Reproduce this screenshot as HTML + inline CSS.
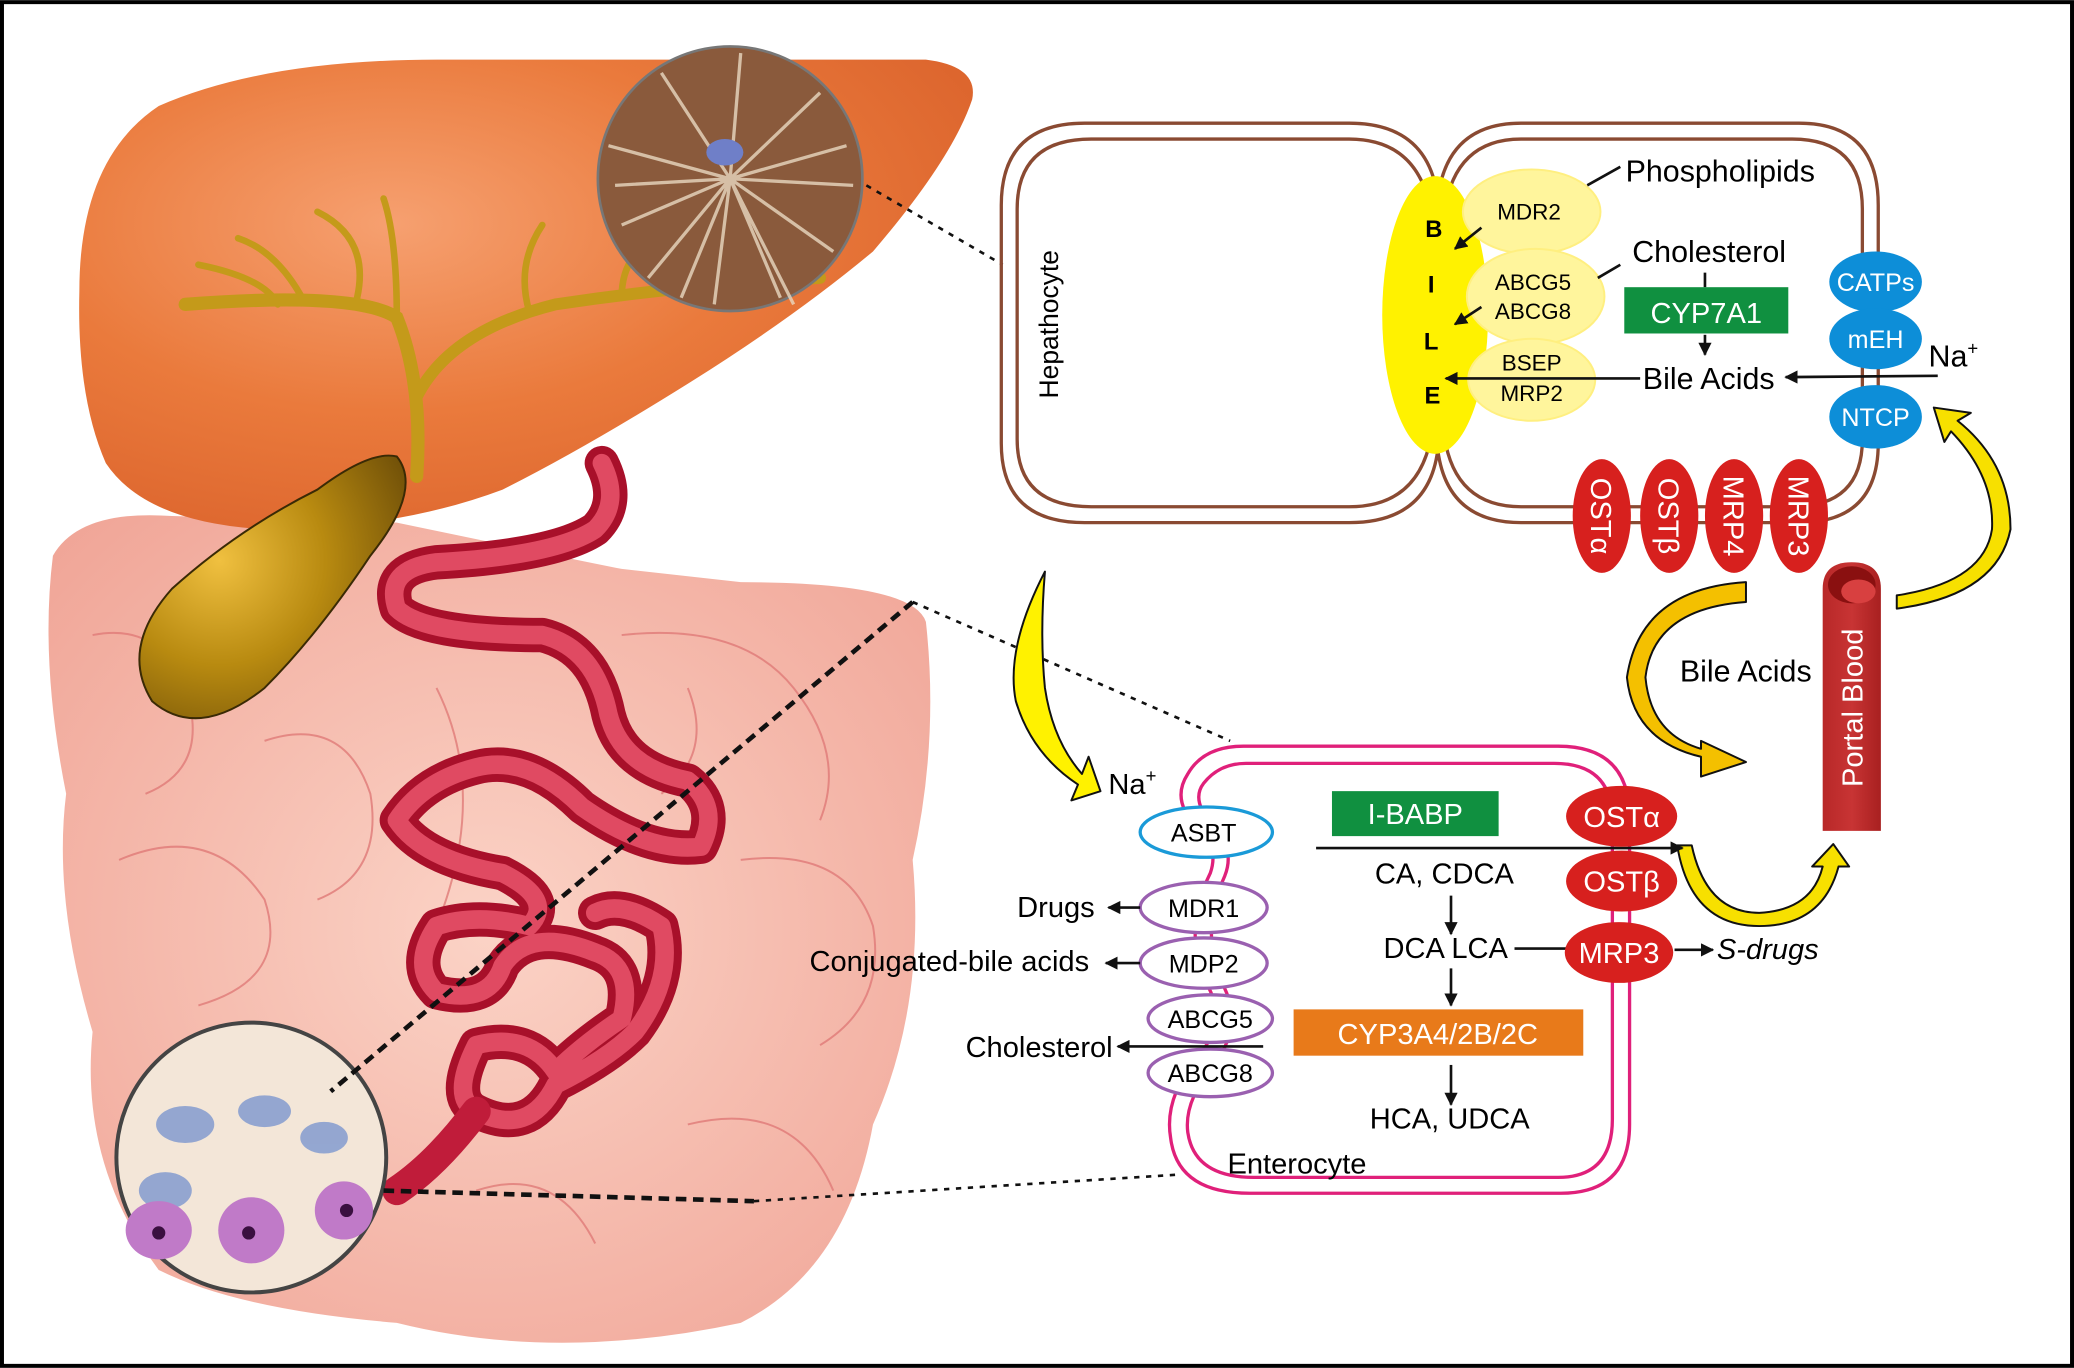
<!DOCTYPE html>
<html><head><meta charset="utf-8"><style>
html,body{margin:0;padding:0;background:#fff}
svg{display:block}
text{font-family:"Liberation Sans Narrow","Liberation Sans",sans-serif}
</style></head><body>
<svg width="2074" height="1368" viewBox="0 0 1568 1034" xmlns="http://www.w3.org/2000/svg">
<defs>
<radialGradient id="liv" cx="0.35" cy="0.35" r="0.8"><stop offset="0" stop-color="#f6a070"/><stop offset="0.5" stop-color="#ea7a3c"/><stop offset="1" stop-color="#d9602a"/></radialGradient>
<radialGradient id="gb" cx="0.3" cy="0.4" r="0.8"><stop offset="0" stop-color="#f0c040"/><stop offset="0.5" stop-color="#b88a10"/><stop offset="1" stop-color="#6e4e08"/></radialGradient>
<radialGradient id="int" cx="0.5" cy="0.5" r="0.7"><stop offset="0" stop-color="#fbd3c6"/><stop offset="1" stop-color="#f0a496"/></radialGradient>
<linearGradient id="pb" x1="0" x2="1"><stop offset="0" stop-color="#b82828"/><stop offset="0.5" stop-color="#c83434"/><stop offset="1" stop-color="#a82020"/></linearGradient>
<marker id="ah" viewBox="0 0 10 10" refX="9" refY="5" markerWidth="5" markerHeight="5" orient="auto"><path d="M0,0 L10,5 L0,10 z" fill="#111"/></marker>
</defs>
<rect x="1.5" y="1.5" width="1565" height="1031" fill="#fff" stroke="#000" stroke-width="3"/>

<!-- intestines -->
<path d="M40,420 Q60,385 130,390 L300,395 Q420,420 470,430 L560,440 Q690,440 700,470 Q710,560 690,650 Q700,760 660,850 Q640,960 560,1000 Q420,1030 300,1000 Q180,990 120,960 Q60,880 70,780 Q40,680 50,600 Q30,500 40,420 Z" fill="url(#int)"/>
<g fill="none" stroke="#e07a78" stroke-width="1.5" opacity="0.8">
<path d="M70,480 Q120,470 140,520 Q160,580 110,600"/><path d="M90,650 Q160,620 200,680 Q220,740 150,760"/>
<path d="M150,820 Q230,780 260,850"/><path d="M470,480 Q560,470 600,520 Q640,570 620,620"/>
<path d="M560,650 Q640,640 660,700 Q670,760 620,790"/><path d="M520,850 Q600,830 630,900"/>
<path d="M200,560 Q260,540 280,600 Q290,660 240,680"/><path d="M360,900 Q420,880 450,940"/>
<path d="M330,520 Q370,600 330,700"/><path d="M520,520 Q540,570 500,600"/></g>

<!-- liver -->
<path d="M60,220 Q60,120 120,80 Q200,45 330,45 L700,45 Q740,50 735,75 Q720,120 660,190 Q600,240 520,290 Q440,340 380,370 Q300,400 200,400 Q110,395 80,350 Q58,300 60,220 Z" fill="url(#liv)"/>
<g fill="none" stroke="#c49a1a" stroke-linecap="round">
<path d="M315,360 Q320,290 300,240 Q270,220 140,230" stroke-width="10"/>
<path d="M315,300 Q340,250 420,230 Q520,215 620,210" stroke-width="9"/>
<path d="M230,228 Q210,190 180,180 M270,225 Q280,180 240,160 M300,240 Q300,180 290,150 M210,230 Q200,210 150,200" stroke-width="5"/>
<path d="M400,235 Q390,200 410,170 M470,225 Q470,190 500,180 M540,215 Q560,190 600,185" stroke-width="5"/>
</g>
<!-- gallbladder -->
<path d="M300,345 Q320,370 280,420 Q240,480 200,520 Q150,560 115,530 Q90,490 130,445 Q180,400 240,370 Q280,340 300,345 Z" fill="url(#gb)" stroke="#3a2a05" stroke-width="1.5"/>

<!-- small intestine tube -->
<path d="M455,350 Q470,380 450,400 Q420,420 330,425 Q290,430 300,460 Q320,480 410,480 Q450,490 460,540 Q470,580 520,590 Q545,610 530,640 Q490,645 440,610 Q400,570 360,580 Q320,590 300,620 Q320,650 380,660 Q420,680 400,700 Q360,690 330,700 Q310,730 330,750 Q370,760 380,730 Q400,700 450,720 Q480,730 470,770 Q440,790 420,810 Q400,780 360,790 Q340,830 360,840 Q400,860 420,820 Q460,800 480,780 Q510,740 500,700 Q470,680 450,690" fill="none" stroke="#a8102a" stroke-width="26" stroke-linecap="round" stroke-linejoin="round"/>
<path d="M455,350 Q470,380 450,400 Q420,420 330,425 Q290,430 300,460 Q320,480 410,480 Q450,490 460,540 Q470,580 520,590 Q545,610 530,640 Q490,645 440,610 Q400,570 360,580 Q320,590 300,620 Q320,650 380,660 Q420,680 400,700 Q360,690 330,700 Q310,730 330,750 Q370,760 380,730 Q400,700 450,720 Q480,730 470,770 Q440,790 420,810 Q400,780 360,790 Q340,830 360,840 Q400,860 420,820 Q460,800 480,780 Q510,740 500,700 Q470,680 450,690" fill="none" stroke="#e04a62" stroke-width="14" stroke-linecap="round" stroke-linejoin="round"/>
<path d="M360,840 Q330,880 300,900" fill="none" stroke="#c01c3a" stroke-width="22" stroke-linecap="round"/>

<!-- liver lobule circle -->
<circle cx="552" cy="135" r="100" fill="#8a5a3c" stroke="#777" stroke-width="2"/>
<g stroke="#e8d8c0" stroke-width="2.5" fill="none" opacity="0.8">
<path d="M552,135 L460,110 M552,135 L470,170 M552,135 L490,210 M552,135 L540,230 M552,135 L590,225 M552,135 L630,190 M552,135 L645,140 M552,135 L620,70 M552,135 L560,40 M552,135 L500,55 M552,135 L465,140 M552,135 L600,230 M552,135 L515,225 M552,135 L640,110"/></g>
<ellipse cx="548" cy="115" rx="14" ry="10" fill="#6f7fc8"/>
<!-- intestine circle -->
<circle cx="190" cy="875" r="102" fill="#f3e6d8" stroke="#444" stroke-width="3"/>
<g fill="#8aa0d0" opacity="0.9"><ellipse cx="140" cy="850" rx="22" ry="14"/><ellipse cx="200" cy="840" rx="20" ry="12"/><ellipse cx="245" cy="860" rx="18" ry="12"/><ellipse cx="125" cy="900" rx="20" ry="14"/></g>
<g fill="#c07ac8"><ellipse cx="120" cy="930" rx="25" ry="22"/><ellipse cx="190" cy="930" rx="25" ry="25"/><ellipse cx="260" cy="915" rx="22" ry="22"/></g>
<g fill="#3a1040"><circle cx="120" cy="932" r="5"/><circle cx="188" cy="932" r="5"/><circle cx="262" cy="915" r="5"/></g>

<!-- zoom lines -->
<path d="M655,140 L758,200" stroke="#111" stroke-width="2" stroke-dasharray="4,5"/>
<path d="M690,455 L930,560" stroke="#111" stroke-width="2" stroke-dasharray="4,5"/>
<path d="M690,455 L250,825" stroke="#111" stroke-width="3.5" stroke-dasharray="8,5"/>
<path d="M290,900 L570,908" stroke="#111" stroke-width="3.5" stroke-dasharray="8,5"/>
<path d="M570,908 L890,888" stroke="#111" stroke-width="2" stroke-dasharray="4,5"/>

<!-- Hepatocytes -->
<g fill="none" stroke="#8a4a32" stroke-width="2.5">
<path d="M820,93 H1020 Q1080,93 1087,150 Q1094,93 1150,93 H1360 Q1420,93 1420,155 V335 Q1420,395 1360,395 H1150 Q1094,395 1087,340 Q1080,395 1020,395 H820 Q757,395 757,335 V155 Q757,93 820,93 Z"/>
<path d="M1082,160 Q1072,105 1020,105 H825 Q769,105 769,158 V332 Q769,383 825,383 H1020 Q1072,383 1082,330"/>
<path d="M1092,160 Q1100,105 1150,105 H1355 Q1408,105 1408,158 V332 Q1408,383 1355,383 H1150 Q1100,383 1092,330"/>
</g>
<text transform="translate(800,245) rotate(-90)" font-size="20" text-anchor="middle" font-family="Liberation Sans">Hepathocyte</text>
<ellipse cx="1085" cy="238" rx="40" ry="105" fill="#fff200"/>
<g font-size="18" font-weight="bold" font-family="Liberation Sans" text-anchor="middle"><text x="1084" y="179">B</text><text x="1082" y="221">I</text><text x="1082" y="264">L</text><text x="1083" y="305">E</text></g>
<g fill="#fff59c" stroke="#ffef80" stroke-width="1.5"><ellipse cx="1158" cy="160" rx="52" ry="32"/><ellipse cx="1161" cy="224" rx="52" ry="36"/><ellipse cx="1158" cy="287" rx="48" ry="31"/></g>
<g font-size="17" text-anchor="middle"><text x="1156" y="166">MDR2</text><text x="1159" y="219">ABCG5</text><text x="1159" y="241">ABCG8</text><text x="1158" y="280">BSEP</text><text x="1158" y="303">MRP2</text></g>
<g stroke="#111" stroke-width="2" fill="none"><path d="M1200,140 L1225,126"/><path d="M1208,210 L1225,200"/>
<path d="M1120,172 L1100,188" marker-end="url(#ah)"/><path d="M1120,232 L1100,245" marker-end="url(#ah)"/>
<path d="M1240,286 L1093,286" marker-end="url(#ah)"/><path d="M1465,284 L1350,285" marker-end="url(#ah)"/>
<path d="M1289,206 V217"/><path d="M1289,253 V268" marker-end="url(#ah)"/></g>
<g font-size="23"><text x="1229" y="137">Phospholipids</text><text x="1234" y="198">Cholesterol</text><text x="1242" y="294">Bile Acids</text><text x="1458" y="277">Na<tspan font-size="14" dy="-9">+</tspan></text></g>
<rect x="1228" y="217" width="124" height="35" fill="#109040"/>
<text x="1290" y="244" font-size="22" fill="#fff" text-anchor="middle">CYP7A1</text>
<g fill="#0d8ed8"><ellipse cx="1418" cy="213" rx="35" ry="23"/><ellipse cx="1418" cy="256" rx="35" ry="23"/><ellipse cx="1418" cy="315" rx="35" ry="24"/></g>
<g fill="#fff" font-size="19" text-anchor="middle"><text x="1418" y="220">CATPs</text><text x="1418" y="263">mEH</text><text x="1418" y="322">NTCP</text></g>
<g fill="#d7201e"><ellipse cx="1211" cy="390" rx="22" ry="43"/><ellipse cx="1262" cy="390" rx="22" ry="43"/><ellipse cx="1311" cy="390" rx="22" ry="43"/><ellipse cx="1360" cy="390" rx="22" ry="43"/></g>
<g fill="#fff" font-size="22" text-anchor="middle">
<text transform="translate(1203,390) rotate(90)">OSTα</text><text transform="translate(1254,390) rotate(90)">OSTβ</text>
<text transform="translate(1303,390) rotate(90)">MRP4</text><text transform="translate(1352,390) rotate(90)">MRP3</text></g>

<!-- Portal blood -->
<path d="M1378,445 Q1378,425 1400,425 Q1422,425 1422,445 V628 H1378 Z" fill="url(#pb)"/>
<ellipse cx="1400" cy="442" rx="18" ry="14" fill="#8a1010"/><ellipse cx="1405" cy="447" rx="13" ry="9" fill="#d84040"/>
<text transform="translate(1408,535) rotate(-90)" fill="#fff" font-size="22" text-anchor="middle" font-family="Liberation Sans">Portal Blood</text>
<text x="1270" y="515" font-size="23">Bile Acids</text>

<!-- yellow arrows -->
<g stroke="#111" stroke-width="1.5" stroke-linejoin="round">
<path d="M1320,440 Q1240,445 1230,512 Q1235,560 1286,572 L1286,587 L1320,576 L1286,560 L1286,566 Q1248,555 1244,512 Q1250,460 1320,455 Z" fill="#f4c000"/>
<path d="M1268,639 L1279,639 Q1290,690 1330,690 Q1370,688 1378,655 L1370,655 L1386,638 L1398,655 L1390,655 Q1378,700 1330,700 Q1278,700 1268,639 Z" fill="#f7e000"/>
<path d="M1434,460 Q1510,450 1520,400 Q1520,350 1480,318 L1490,312 L1462,308 L1470,334 L1475,326 Q1508,360 1506,400 Q1500,440 1434,450 Z" fill="#f7e000"/>
<path d="M790,432 Q760,490 768,530 Q780,570 815,593 L810,605 L832,598 L823,572 L818,585 Q796,560 790,520 Q786,480 790,432 Z" fill="#fff200"/>
</g>

<!-- Enterocyte -->
<g fill="none" stroke="#e0207a" stroke-width="2.5">
<path d="M940,564 H1178 Q1232,564 1232,618 V850 Q1232,902 1180,902 H945 Q890,902 885,860 Q880,830 905,800 Q930,770 910,740 Q895,700 915,660 Q922,640 905,625 Q885,605 898,585 Q910,564 940,564 Z"/>
<path d="M942,577 H1175 Q1219,577 1219,620 V846 Q1219,890 1178,890 H948 Q903,890 898,856 Q895,832 918,805 Q942,772 922,740 Q908,702 926,662 Q934,642 917,624 Q900,605 910,592 Q922,577 942,577 Z"/>
</g>
<g font-size="22"><text x="838" y="600">Na<tspan font-size="14" dy="-9">+</tspan></text></g>
<ellipse cx="912" cy="629" rx="50" ry="19" fill="#fff" stroke="#1a9ad8" stroke-width="2.5"/>
<g fill="#fff" stroke="#9a60b0" stroke-width="2.5"><ellipse cx="910" cy="686" rx="48" ry="19"/><ellipse cx="910" cy="728" rx="48" ry="19"/><ellipse cx="915" cy="770" rx="47" ry="18"/><ellipse cx="915" cy="811" rx="47" ry="18"/></g>
<g font-size="19" text-anchor="middle"><text x="910" y="636">ASBT</text><text x="910" y="693">MDR1</text><text x="910" y="735">MDP2</text><text x="915" y="777">ABCG5</text><text x="915" y="818">ABCG8</text></g>
<g stroke="#111" stroke-width="2" fill="none">
<path d="M862,686 L838,686" marker-end="url(#ah)"/><path d="M862,728 L836,728" marker-end="url(#ah)"/>
<path d="M955,791 L845,791" marker-end="url(#ah)"/>
<path d="M995,641 L1272,641" marker-end="url(#ah)"/>
<path d="M1097,677 V706" marker-end="url(#ah)"/><path d="M1097,732 V760" marker-end="url(#ah)"/><path d="M1097,805 V835" marker-end="url(#ah)"/>
<path d="M1145,717 H1190"/><path d="M1266,718 H1295" marker-end="url(#ah)"/></g>
<g font-size="22"><text x="769" y="693">Drugs</text><text x="612" y="734">Conjugated-bile acids</text><text x="730" y="799">Cholesterol</text>
<text x="1092" y="668" text-anchor="middle">CA, CDCA</text><text x="1093" y="724" text-anchor="middle">DCA LCA</text>
<text x="1096" y="853" text-anchor="middle">HCA, UDCA</text><text x="928" y="887">Enterocyte</text>
<text x="1298" y="725" font-style="italic">S-drugs</text></g>
<rect x="1007" y="598" width="126" height="34" fill="#109040"/>
<text x="1070" y="623" fill="#fff" font-size="22" text-anchor="middle">I-BABP</text>
<rect x="978" y="763" width="219" height="35" fill="#e87a1a"/>
<text x="1087" y="789" fill="#fff" font-size="22" text-anchor="middle">CYP3A4/2B/2C</text>
<g fill="#d7201e"><ellipse cx="1226" cy="617" rx="42" ry="23"/><ellipse cx="1226" cy="666" rx="42" ry="23"/><ellipse cx="1224" cy="720" rx="41" ry="23"/></g>
<g fill="#fff" font-size="22" text-anchor="middle"><text x="1226" y="625">OSTα</text><text x="1226" y="674">OSTβ</text><text x="1224" y="728">MRP3</text></g>
</svg>
</body></html>
